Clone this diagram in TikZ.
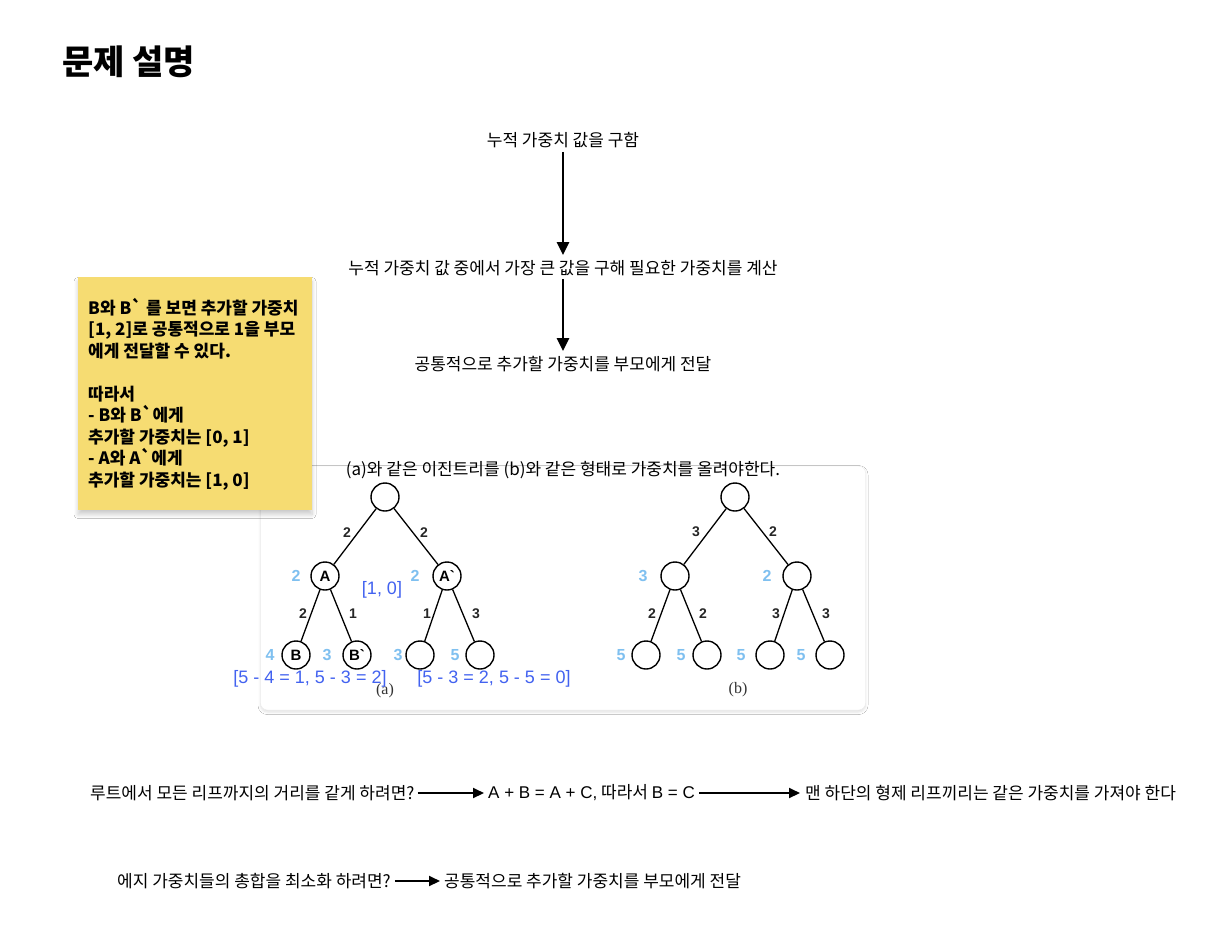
\documentclass[tikz,border=0pt]{standalone}
\usepackage{fontspec}
\setmainfont{Noto Sans CJK KR}[Ligatures=TeXOff]
\newfontfamily\seriffont{Liberation Serif}
\newfontfamily\latinsans{Liberation Sans}
\usetikzlibrary{arrows.meta,shadows.blur}
\definecolor{sticky}{HTML}{F6DC72}
\definecolor{lblue}{HTML}{7FC0F0}
\definecolor{dblue}{HTML}{4262F0}
\newcommand{\bt}{\symbol{96}}
\begin{document}
\begin{tikzpicture}[x=1pt,y=-1pt,
  txt/.style={font=\fontsize{17}{20}\selectfont, inner sep=0pt},
  flowarrow/.style={line width=2.5pt, -{Triangle[length=13pt,width=12pt]}},
  rowarrow/.style={line width=2pt, -{Triangle[length=11pt,width=10pt]}},
  tnode/.style={circle, draw, line width=1.4pt, minimum size=28pt, inner sep=0pt, font=\latinsans\bfseries\fontsize{15}{15}\selectfont},
  tedge/.style={line width=1.3pt},
  elab/.style={font=\latinsans\bfseries\fontsize{14}{14}\selectfont, text=black!85, inner sep=0pt},
  wlab/.style={font=\latinsans\bfseries\fontsize{16}{16}\selectfont, text=lblue, inner sep=0pt},
  blab/.style={font=\latinsans\fontsize{18}{18}\selectfont, text=dblue, inner sep=0pt},
  caplab/.style={font=\seriffont\fontsize{16}{16}\selectfont, text=black!80, inner sep=0pt}
]
\useasboundingbox[fill=white] (0,0) rectangle (1221,932);

% title
\node[anchor=west, inner sep=0pt, font=\bfseries\fontsize{34}{38}\selectfont] (title) at (62,62) {문제 설명};

% flow
\node[txt] (f1) at (563,140) {누적 가중치 값을 구함};
\node[txt] (f2) at (563,268) {누적 가중치 값 중에서 가장 큰 값을 구해 필요한 가중치를 계산};
\node[txt] (f3) at (563,364) {공통적으로 추가할 가중치를 부모에게 전달};
\draw[flowarrow, shorten <=4pt, shorten >=5pt] (f1.south) -- (f2.north);
\draw[flowarrow, shorten <=3pt, shorten >=5pt] (f2.south) -- (f3.north);

% tree image box
\node[draw=black!8, fill=white, rounded corners=7pt, blur shadow={shadow blur steps=6, shadow xshift=0pt, shadow yshift=-2pt, shadow opacity=12, shadow blur radius=2.5pt},
      minimum width=605pt, minimum height=244pt, inner sep=0pt] (box) at (563,588) {};

% tree (a)
\node[tnode] (ar) at (385,497) {};
\node[tnode] (aA) at (325,576) {A};
\node[tnode] (aA2) at (447,576) {A\bt};
\node[tnode] (aB) at (296,655) {B};
\node[tnode] (aB2) at (357,655) {B\bt};
\node[tnode] (aC) at (420,655) {};
\node[tnode] (aD) at (480,655) {};
\draw[tedge] (ar) -- (aA);
\draw[tedge] (ar) -- (aA2);
\draw[tedge] (aA) -- (aB);
\draw[tedge] (aA) -- (aB2);
\draw[tedge] (aA2) -- (aC);
\draw[tedge] (aA2) -- (aD);
\node[elab] (ea1) at (347,533) {2};
\node[elab] (ea2) at (424,533) {2};
\node[elab] (ea3) at (303,614) {2};
\node[elab] (ea4) at (353,614) {1};
\node[elab] (ea5) at (427,614) {1};
\node[elab] (ea6) at (476,614) {3};
\node[wlab] (wa1) at (296,576) {2};
\node[wlab] (wa2) at (415,576) {2};
\node[wlab] (wa3) at (270,655) {4};
\node[wlab] (wa4) at (327,655) {3};
\node[wlab] (wa5) at (398,655) {3};
\node[wlab] (wa6) at (455,655) {5};
\node[caplab] (capa) at (385,691) {(a)};

% tree (b)
\node[tnode] (br) at (735,497) {};
\node[tnode] (bL) at (675,576) {};
\node[tnode] (bR) at (797,576) {};
\node[tnode] (b1) at (646,655) {};
\node[tnode] (b2) at (707,655) {};
\node[tnode] (b3) at (770,655) {};
\node[tnode] (b4) at (830,655) {};
\draw[tedge] (br) -- (bL);
\draw[tedge] (br) -- (bR);
\draw[tedge] (bL) -- (b1);
\draw[tedge] (bL) -- (b2);
\draw[tedge] (bR) -- (b3);
\draw[tedge] (bR) -- (b4);
\node[elab] (eb1) at (696,532) {3};
\node[elab] (eb2) at (773,532) {2};
\node[elab] (eb3) at (652,614) {2};
\node[elab] (eb4) at (703,614) {2};
\node[elab] (eb5) at (776,614) {3};
\node[elab] (eb6) at (826,614) {3};
\node[wlab] (wb1) at (643,576) {3};
\node[wlab] (wb2) at (767,576) {2};
\node[wlab] (wb3) at (621,655) {5};
\node[wlab] (wb4) at (681,655) {5};
\node[wlab] (wb5) at (741,655) {5};
\node[wlab] (wb6) at (801,655) {5};
\node[caplab] (capb) at (738,690) {(b)};

% annotations on tree
\node[blab] (n10) at (382,590) {[1, 0]};
\node[blab] (nbl) at (310,679) {[5 - 4 = 1, 5 - 3 = 2]};
\node[blab] (nbr) at (494,679) {[5 - 3 = 2, 5 - 5 = 0]};

% sticky note
\node[fill=sticky, blur shadow={shadow blur steps=8, shadow xshift=0pt, shadow yshift=-5pt, shadow opacity=20, shadow blur radius=4pt},
      minimum width=234pt, minimum height=233pt, inner sep=0pt] (note) at (195,393) {};
\node[anchor=north west, align=left, inner sep=0pt, font=\bfseries\fontsize{17}{21.5}\selectfont] (notetext) at (88,298)
  {B와 B\bt\ 를 보면 추가할 가중치\\
   {}[1, 2]로 공통적으로 1을 부모\\
   에게 전달할 수 있다.\\[21.5pt]
   따라서\\
   - B와 B\bt 에게\\
   추가할 가중치는 {}[0, 1]\\
   - A와 A\bt 에게\\
   추가할 가중치는 {}[1, 0]};

% tree caption
\node[txt] (cap) at (563,470) {(a)와 같은 이진트리를 (b)와 같은 형태로 가중치를 올려야한다.};

% bottom rows
\node[txt, anchor=west] (q1) at (90,793) {루트에서 모든 리프까지의 거리를 같게 하려면?};
\node[txt, anchor=west] (a1) at (488,793) {{\latinsans A + B = A + C,} 따라서 {\latinsans B = C}};
\node[txt, anchor=west] (r1) at (805,793) {맨 하단의 형제 리프끼리는 같은 가중치를 가져야 한다};
\draw[rowarrow, shorten <=3pt, shorten >=4pt] (q1.east) -- (a1.west);
\draw[rowarrow, shorten <=4pt, shorten >=5pt] (a1.east) -- (r1.west);

\node[txt, anchor=west] (q2) at (117,881) {에지 가중치들의 총합을 최소화 하려면?};
\node[txt, anchor=west] (r2) at (444,881) {공통적으로 추가할 가중치를 부모에게 전달};
\draw[rowarrow, shorten <=4pt, shorten >=4pt] (q2.east) -- (r2.west);
\end{tikzpicture}
\end{document}
